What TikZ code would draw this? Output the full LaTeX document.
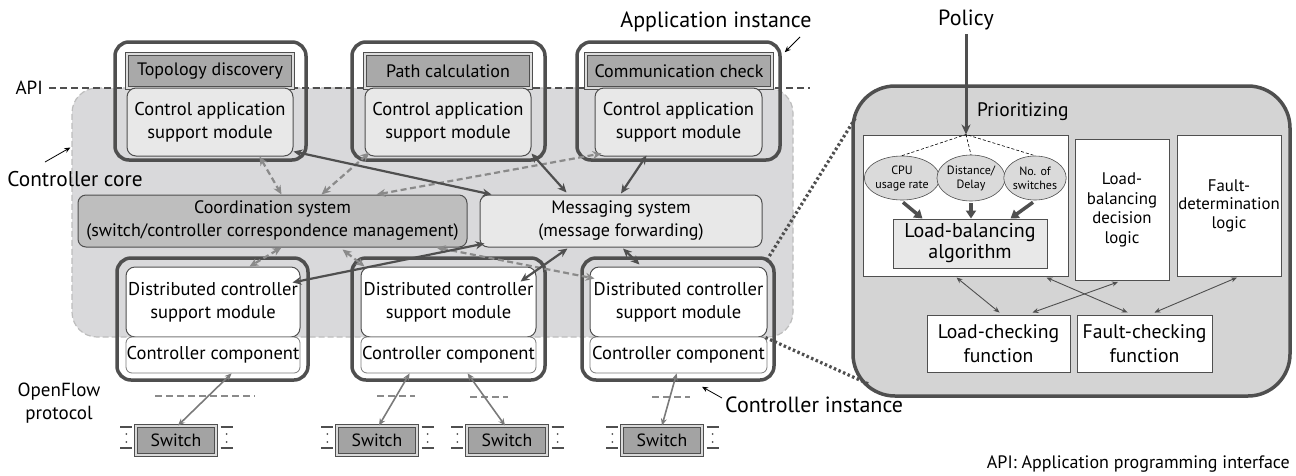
\documentclass[tikz,border=0pt]{standalone}
\usepackage{fontspec}
\setmainfont{PT Sans}
\usetikzlibrary{arrows.meta,shapes.geometric}
\definecolor{dk}{HTML}{4F4F4F}
\definecolor{corefill}{HTML}{D9D9DB}
\definecolor{coreline}{HTML}{BDBDBD}
\definecolor{panelfill}{HTML}{D4D4D4}
\definecolor{hdrfill}{HTML}{A9A9A9}
\definecolor{swfill}{HTML}{A3A3A3}
\definecolor{coordfill}{HTML}{BEBEBE}
\definecolor{ltfill}{HTML}{E8E8E8}
\definecolor{ellfill}{HTML}{DADADA}
\definecolor{dgray}{HTML}{8A8A8A}
\definecolor{mgray}{HTML}{7A7A7A}
\newcommand\myfs[2]{\fontsize{#1}{#2}\selectfont}
\begin{document}
\begin{tikzpicture}[x=1pt,y=-1pt,
  lbl/.style={inner sep=0pt,text=black},
  box/.style={rectangle,inner sep=0pt,align=center,text=black},
  corebg/.style={box,fill=corefill,draw=coreline,dashed,dash pattern=on 6pt off 3pt,line width=1.2pt,rounded corners=25pt},
  panelbg/.style={box,fill=panelfill,draw=dk,line width=3.5pt,rounded corners=42pt},
  inst/.style={box,draw=dk,line width=3.5pt,rounded corners=14pt},
  hdr/.style={box,fill=hdrfill,draw=dk,double=hdrfill!40!white,double distance=1.3pt,line width=1.1pt,font=\myfs{18}{20}},
  cas/.style={box,fill=ltfill,draw=dk,line width=1pt,rounded corners=9pt,font=\myfs{18.5}{23}},
  dcs/.style={box,fill=white,draw=dk,line width=1pt,rounded corners=9pt,font=\myfs{18.5}{23}},
  ccomp/.style={box,fill=white,draw=mgray,line width=0.8pt,rounded corners=6pt,font=\myfs{18.5}{20}},
  sysbox/.style={box,draw=dk,line width=1pt,rounded corners=8pt,font=\myfs{18}{23}},
  sw/.style={box,fill=swfill,draw=dk,double=swfill!40!white,double distance=1.3pt,line width=1.1pt,font=\myfs{17.7}{20},minimum width=80pt,minimum height=29pt},
  wbox/.style={box,fill=white,draw=dk,line width=1pt},
  ell/.style={ellipse,inner sep=0pt,align=center,fill=ellfill,draw=dk,line width=0.6pt,font=\myfs{12}{14}},
  sarr/.style={draw=dk,line width=2.2pt,{Stealth[length=9pt,width=8pt]}-{Stealth[length=9pt,width=8pt]}},
  darr/.style={draw=dgray,line width=2.2pt,dash pattern=on 6pt off 3.5pt,{Stealth[length=9pt,width=8pt]}-{Stealth[length=9pt,width=8pt]}},
  swarr/.style={draw=mgray,line width=1.6pt,{Stealth[length=7pt,width=6pt]}-{Stealth[length=7pt,width=6pt]}},
  tarr/.style={draw=dk,line width=0.9pt,{Stealth[length=6pt,width=5pt]}-{Stealth[length=6pt,width=5pt]}},
  thick arr/.style={draw=dk,line width=3.5pt,-{Triangle[length=8pt,width=10pt]}},
  zoomline/.style={draw=dk,line width=3.2pt,dash pattern=on 2.5pt off 2.5pt},
  ofline/.style={draw=dgray,line width=1.4pt,dash pattern=on 7pt off 4pt},
  brk/.style={draw=dk,line width=2pt},
  note/.style={draw=black,line width=0.8pt,-{Stealth[length=6pt,width=5pt]}}
]
\useasboundingbox (0,0) rectangle (1296,475);

% controller core background
\node[corebg,minimum width=721pt,minimum height=249pt] (core) at (432.5,212.5) {};
% right panel
\node[panelbg,minimum width=437pt,minimum height=310pt] (panel) at (1071.5,241) {};

% API line
\node[lbl,font=\myfs{19}{20},anchor=east] (api) at (43,88) {API};
\coordinate (apiend) at (810,88);
\draw[dk,line width=1.3pt,dash pattern=on 7pt off 4pt] ([xshift=6pt]api.east) -- (apiend);

% application instances
\node[inst,minimum width=191pt,minimum height=118pt] (app1) at (210.5,101) {};
\node[inst,minimum width=193pt,minimum height=118pt] (app2) at (448.5,101) {};
\node[inst,minimum width=203pt,minimum height=118pt] (app3) at (678.5,101) {};
\node[hdr,minimum width=166pt,minimum height=34pt] (h1) at (210,71) {Topology discovery};
\node[hdr,minimum width=166pt,minimum height=34pt] (h2) at (448,71) {Path calculation};
\node[hdr,minimum width=186pt,minimum height=34pt] (h3) at (679,71) {Communication check};
\node[cas,minimum width=166pt,minimum height=68pt] (cas1) at (210,122) {Control application\\support module};
\node[cas,minimum width=166pt,minimum height=68pt] (cas2) at (448,122) {Control application\\support module};
\node[cas,minimum width=167pt,minimum height=68pt] (cas3) at (678.5,122) {Control application\\support module};

% systems
\node[sysbox,fill=coordfill,minimum width=389pt,minimum height=52pt] (coord) at (272.5,221) {Coordination system\\(switch/controller correspondence management)};
\node[sysbox,fill=ltfill,minimum width=282pt,minimum height=52pt] (msg) at (621,221) {Messaging system\\(message forwarding)};

% controller instances
\node[inst,minimum width=191pt,minimum height=122pt] (ci1) at (212.5,319) {};
\node[inst,minimum width=193pt,minimum height=122pt] (ci2) at (448.5,319) {};
\node[inst,minimum width=192pt,minimum height=122pt] (ci3) at (678,319) {};
\node[dcs,minimum width=174pt,minimum height=70pt] (dcs1) at (213,302) {Distributed controller\\support module};
\node[dcs,minimum width=175pt,minimum height=70pt] (dcs2) at (448.5,302) {Distributed controller\\support module};
\node[dcs,minimum width=177pt,minimum height=70pt] (dcs3) at (678.5,302) {Distributed controller\\support module};
\node[ccomp,minimum width=174pt,minimum height=36pt] (cc1) at (213,355) {Controller component};
\node[ccomp,minimum width=175pt,minimum height=36pt] (cc2) at (448.5,355) {Controller component};
\node[ccomp,minimum width=177pt,minimum height=36pt] (cc3) at (678.5,355) {Controller component};

% switches
\foreach \n/\x in {sw1/176,sw2/377,sw3/507,sw4/662}{
  \node[sw] (\n) at (\x,440.5) {Switch};
  \draw[brk] ([xshift=-15pt,yshift=13.5pt]\n.west) -- ++(12,0);
  \draw[brk] ([xshift=-15pt,yshift=-7.5pt]\n.west) -- ++(12,0);
  \fill[dk] ([xshift=-9pt,yshift=6.5pt]\n.west) circle (1pt);
  \fill[dk] ([xshift=-9pt,yshift=-1.5pt]\n.west) circle (1pt);
  \draw[brk] ([xshift=4pt,yshift=13.5pt]\n.east) -- ++(12,0);
  \draw[brk] ([xshift=4pt,yshift=-7.5pt]\n.east) -- ++(12,0);
  \fill[dk] ([xshift=10pt,yshift=6.5pt]\n.east) circle (1pt);
  \fill[dk] ([xshift=10pt,yshift=-1.5pt]\n.east) circle (1pt);
}
% OpenFlow dashed lines
\draw[ofline] (155,396) -- (255,396);
\draw[ofline] (377,396) -- (415,396);
\draw[ofline] (470,397) -- (508,397);
\draw[ofline] (652,397) -- (690,397);

% switch arrows
\draw[swarr] ([xshift=106pt]cc1.south west) -- ([xshift=2pt]sw1.north);
\draw[swarr] ([xshift=49pt]cc2.south west) -- ([xshift=2pt]sw2.north);
\draw[swarr] ([xshift=107pt]cc2.south west) -- ([xshift=-2pt]sw3.north);
\draw[swarr] ([xshift=87pt]cc3.south west) -- (sw4.north);

% dashed gray arrows
\draw[darr] ([xshift=133pt]cas1.south west) -- ([xshift=204pt]coord.north west);
\draw[darr] ([xshift=244pt]coord.north west) -- ([xshift=5pt,yshift=4pt]cas2.south west);
\draw[darr] ([xshift=299pt]coord.north west) -- ([xshift=7pt,yshift=3pt]cas3.south west);
\draw[darr] ([xshift=204pt]coord.south west) -- ([xshift=124pt]dcs1.north west);
\draw[darr] ([xshift=265pt,yshift=-2pt]coord.south west) -- ([xshift=4pt]dcs2.north west);
\draw[darr] ([xshift=359pt]coord.south west) -- ([xshift=5pt,yshift=-12pt]dcs3.north west);

% solid arrows
\draw[sarr] ([yshift=5pt]cas1.south east) -- ([xshift=12pt]msg.north west);
\draw[sarr] ([yshift=3pt]cas2.south east) -- ([xshift=87pt,yshift=2pt]msg.north west);
\draw[sarr] ([xshift=52pt,yshift=1pt]cas3.south west) -- ([yshift=1pt]msg.north);
\draw[sarr] ([xshift=5pt,yshift=4pt]msg.south west) -- ([xshift=-8pt,yshift=-16pt]dcs1.north east);
\draw[sarr] ([xshift=88pt,yshift=-1pt]msg.south west) -- ([xshift=-16pt,yshift=-15pt]dcs2.north east);
\draw[sarr] ([xshift=2pt,yshift=-1pt]msg.south) -- ([xshift=50pt,yshift=2pt]dcs3.north west);

% labels with pointer arrows
\node[lbl,font=\myfs{21.3}{24}] (cclabel) at (75,179) {Controller core};
\coordinate (ccstart) at (45,162);
\draw[note] (ccstart) -- ([xshift=-1pt,yshift=65pt]core.west);
\node[lbl,font=\myfs{22}{24}] (ailabel) at (716,22) {Application instance};
\coordinate (aistart) at (800,37);
\draw[note] (aistart) -- ([xshift=3pt,yshift=-12pt]app3.north east);
\node[lbl,font=\myfs{22}{24},anchor=west] (cilabel) at (725,405) {Controller instance};
\draw[note] ([xshift=-3pt,yshift=7pt]cilabel.west) -- ([xshift=24pt,yshift=-5pt]ci3.south);
\node[lbl,font=\myfs{19}{23},align=center] (oflabel) at (59,403) {OpenFlow\\protocol};
\node[lbl,font=\myfs{18}{20},anchor=east] (apinote) at (1290,464) {API: Application programming interface};

% zoom lines
\draw[zoomline] ([xshift=-9pt,yshift=-4pt]ci3.north east) -- ([xshift=4pt,yshift=-34pt]panel.north west);
\draw[zoomline] ([xshift=-2pt]dcs3.south east) -- ([xshift=19pt,yshift=13pt]panel.south west);

% right panel content
\node[lbl,font=\myfs{22}{24}] (policy) at (966,20) {Policy};
\node[lbl,font=\myfs{19.5}{22},anchor=west] (prio) at (977,112) {Prioritizing};
\node[wbox,minimum width=205pt,minimum height=141pt] (w1) at (965.5,205.5) {};
\node[wbox,minimum width=94pt,minimum height=141pt,font=\myfs{16.8}{19.5}] (w2) at (1122,210) {Load-\\balancing\\decision\\logic};
\node[wbox,minimum width=104pt,minimum height=141pt,font=\myfs{16.8}{18.5}] (w3) at (1229,205.5) {Fault-\\determination\\logic};
\coordinate (apex) at ([xshift=0.5pt]w1.north);
\draw[draw=dk,line width=3pt,-{Stealth[length=10pt,width=9pt]}] ([yshift=-4pt]policy.south) -- (apex);
\node[ell,minimum width=62pt,minimum height=44pt] (e1) at (902,178) {CPU\\usage rate};
\node[ell,minimum width=62pt,minimum height=46pt] (e2) at (971,178) {Distance/\\Delay};
\node[ell,minimum width=58pt,minimum height=44pt] (e3) at (1035,178) {No. of\\switches};
\draw[black,line width=0.6pt,dash pattern=on 3pt off 2pt] (e1.north) -- (apex) -- (e3.north);
\draw[black,line width=0.6pt,dash pattern=on 3pt off 2pt] (apex) -- (e2.north);
\node[box,fill=ltfill,draw=dk,line width=1pt,minimum width=154pt,minimum height=49pt,font=\myfs{20}{21}] (lba) at (970,243.5) {Load-balancing\\algorithm};
\draw[thick arr] ([xshift=1pt,yshift=-2pt]e1.south) -- ([xshift=30pt]lba.north west);
\draw[thick arr] ([yshift=-2pt]e2.south) -- ([xshift=1pt]lba.north);
\draw[thick arr] ([xshift=-2pt,yshift=-2pt]e3.south) -- ([xshift=-37pt]lba.north east);
\node[wbox,minimum width=143pt,minimum height=57pt,font=\myfs{19.7}{24}] (lcf) at (998.5,343.5) {Load-checking\\function};
\node[wbox,minimum width=135pt,minimum height=57pt,font=\myfs{19.7}{24}] (fcf) at (1144.5,343.5) {Fault-checking\\function};
\draw[tarr] ([xshift=94pt,yshift=-1pt]w1.south west) -- ([xshift=73pt,yshift=2pt]lcf.north west);
\draw[tarr] ([xshift=184pt,yshift=-1pt]w1.south west) -- ([xshift=51pt,yshift=2pt]fcf.north west);
\draw[tarr] ([xshift=-4pt,yshift=-1pt]w2.south) -- ([xshift=106pt,yshift=2pt]lcf.north west);
\draw[tarr] ([xshift=8pt,yshift=-1pt]w3.south) -- ([xshift=78pt,yshift=2pt]fcf.north west);
\end{tikzpicture}
\end{document}
